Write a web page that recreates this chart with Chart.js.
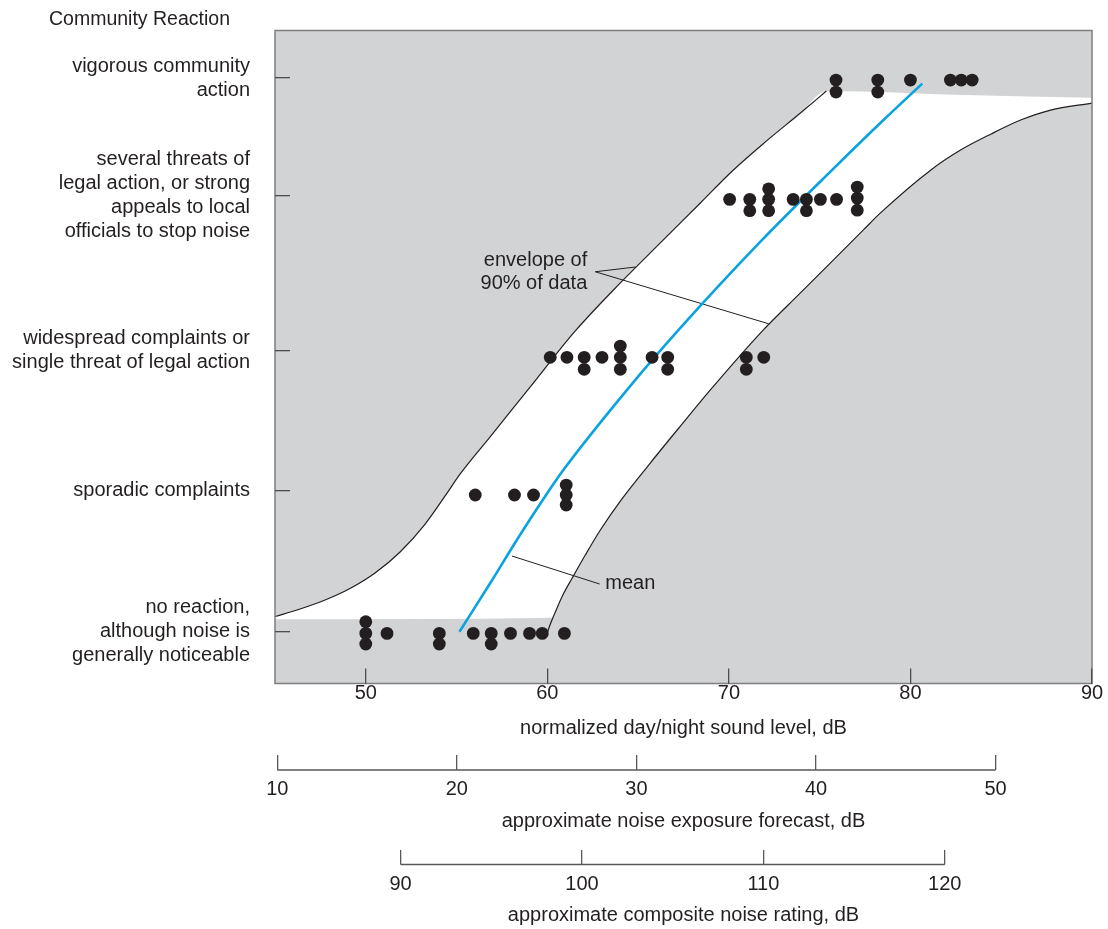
<!DOCTYPE html>
<html>
<head>
<meta charset="utf-8">
<title>Community reaction to noise</title>
<script src="https://cdn.jsdelivr.net/npm/chart.js@4"></script>
<style>
  body { margin: 0; background: #fff; }
  #wrap { width: 1108px; height: 929px; }
</style>
</head>
<body>
<div id="wrap"><canvas id="reactionChart" width="1108" height="929"></canvas></div>
<script>
// reaction categories (bottom to top) and where they sit on the reaction scale
const reactionLabels = [
    ['no reaction,', 'although noise is', 'generally noticeable'],
    ['sporadic complaints'],
    ['widespread complaints or', 'single threat of legal action'],
    ['several threats of', 'legal action, or strong', 'appeals to local', 'officials to stop noise'],
    ['vigorous community', 'action']
];
const reactionLevels = [0, 1.02, 2.03, 3.15, 4.0];

const soundLevelTicks = [50, 60, 70, 80, 90];
const forecastTicks = [10, 20, 30, 40, 50];
const ratingTicks = [90, 100, 110, 120];

// survey cases: normalized day/night level (dB) and reaction score
const caseLevel = [
    50.0, 50.0, 50.0, 51.17, 54.05, 54.05, 55.92, 56.91, 56.91, 57.97, 59.02, 59.72, 60.94,
    56.03, 58.19, 59.24, 61.04, 61.04, 61.04,
    60.16, 61.08, 62.03, 62.03, 63.01, 64.02, 64.02, 64.02, 65.77, 66.63, 66.63, 70.96, 70.96, 71.92,
    70.04, 71.15, 71.15, 72.19, 72.19, 72.19, 73.54, 74.27, 74.27, 75.04, 75.93, 77.07, 77.07, 77.07,
    75.9, 75.9, 78.2, 78.2, 80.0, 82.2, 82.8, 83.4
];
const caseReaction = [
    0.072, -0.012, -0.089, -0.012, -0.012, -0.089, -0.012, -0.012, -0.089, -0.012, -0.012, -0.012, -0.012,
    0.988, 0.988, 0.988, 1.06, 0.988, 0.915,
    1.983, 1.983, 1.983, 1.896, 1.983, 2.064, 1.983, 1.896, 1.983, 1.983, 1.896, 1.983, 1.896, 1.983,
    3.124, 3.124, 3.042, 3.20, 3.124, 3.042, 3.124, 3.124, 3.042, 3.124, 3.124, 3.213, 3.133, 3.046,
    3.986, 3.899, 3.986, 3.899, 3.986, 3.986, 3.986, 3.986
];

// mean curve
const meanLevel = [55.16, 56.85, 58.32, 59.93, 60.89, 64.39, 67.23, 71.83, 75.69, 78.53, 80.65];
const meanReaction = [0, 0.350, 0.663, 0.988, 1.170, 1.748, 2.181, 2.831, 3.337, 3.699, 3.960];

// envelope of 90% of data
const upperLevel = [45.0, 46.38, 47.76, 49.13, 50.51, 51.89, 53.27, 54.37, 55.20, 56.85, 59.06, 61.54,
    64.02, 66.39, 68.43, 70.19, 72.01, 73.94, 75.37];
const upperReaction = [0.110, 0.164, 0.229, 0.312, 0.424, 0.576, 0.778, 0.981, 1.140, 1.408, 1.769, 2.173,
    2.520, 2.831, 3.098, 3.329, 3.539, 3.748, 3.907];
const lowerLevel = [59.99, 60.21, 60.44, 60.88, 61.37, 62.09, 62.92, 64.02, 65.67, 67.33, 68.98, 71.90,
    73.94, 77.41, 78.35, 81.11, 82.76, 84.42, 86.07, 87.72, 90.0];
const lowerReaction = [-0.009, 0.070, 0.142, 0.272, 0.388, 0.554, 0.735, 0.944, 1.219, 1.486, 1.747, 2.181,
    2.448, 2.903, 3.026, 3.335, 3.480, 3.595, 3.697, 3.769, 3.820];
// edges of the shaded area where no curve is drawn
const topEdgeLevel = [83.0, 90.0];
const topEdgeReaction = [3.878, 3.858];
const bottomEdgeLevel = [45.0, 60.3];
const bottomEdgeReaction = [0.090, 0.101];

// callouts
const envelopeNote = ['envelope of', '90% of data'];
const envelopeNoteAt = [[62.2, 2.681], [62.2, 2.517]];
const envelopeLeaderA = [[62.64, 2.601], [64.85, 2.635]];
const envelopeLeaderB = [[62.64, 2.601], [72.19, 2.225]];
const meanNote = 'mean';
const meanNoteAt = [63.19, 0.350];
const meanLeader = [[58.05, 0.547], [62.88, 0.345]];

const ink = '#231f20';
const shade = '#d1d3d4';
const font = '"Liberation Sans", Arial, sans-serif';

function pts(xs, ys) {
    return xs.map((x, i) => ({ x: x, y: ys[i] }));
}
function pairs(list) {
    return list.map(p => ({ x: p[0], y: p[1] }));
}

const upperFill = pts(upperLevel.concat(topEdgeLevel), upperReaction.concat(topEdgeReaction));
const lowerFill = pts(bottomEdgeLevel, bottomEdgeReaction)
    .concat(pts(lowerLevel, lowerReaction).filter(p => p.x > 60.3));

Chart.defaults.font.family = font;
Chart.defaults.font.size = 20;
Chart.defaults.color = ink;

const lineBase = { type: 'line', pointRadius: 0, fill: false, cubicInterpolationMode: 'monotone' };

const extras = {
    id: 'extras',
    afterDatasetsDraw(chart) {
        const { ctx, chartArea: a, scales } = chart;
        const x = scales.x, y = scales.y;
        ctx.save();
        ctx.strokeStyle = '#7d7e80';
        ctx.lineWidth = 1.5;
        ctx.strokeRect(a.left, a.top, a.right - a.left, a.bottom - a.top);

        ctx.fillStyle = ink;
        ctx.font = '20px ' + font;
        ctx.textBaseline = 'middle';
        ctx.textAlign = 'right';
        envelopeNote.forEach((t, i) => {
            ctx.fillText(t, x.getPixelForValue(envelopeNoteAt[i][0]), y.getPixelForValue(envelopeNoteAt[i][1]));
        });
        ctx.textAlign = 'left';
        ctx.fillText(meanNote, x.getPixelForValue(meanNoteAt[0]), y.getPixelForValue(meanNoteAt[1]));
        ctx.restore();
    },
    afterDraw(chart) {
        const ctx = chart.ctx;
        ctx.save();
        // baselines of the two conversion scales
        ctx.strokeStyle = '#58595b';
        ctx.lineWidth = 1.3;
        ['x2', 'x3'].forEach(id => {
            const s = chart.scales[id];
            const yy = s.top + s.options.grid.tickLength;
            ctx.beginPath();
            ctx.moveTo(s.getPixelForValue(s.ticks[0].value), yy);
            ctx.lineTo(s.getPixelForValue(s.ticks[s.ticks.length - 1].value), yy);
            ctx.stroke();
        });
        ctx.fillStyle = ink;
        ctx.font = '19.5px ' + font;
        ctx.textBaseline = 'middle';
        ctx.textAlign = 'left';
        ctx.fillText('Community Reaction', 49, 20);
        ctx.restore();
    }
};

function bottomAxis(ticks, min, max, weight, height, tick, pad, title, titlePad) {
    return {
        type: 'linear', axis: 'x', position: 'bottom', weight: weight, min: min, max: max,
        afterBuildTicks: s => { s.ticks = ticks.map(v => ({ value: v })); },
        afterFit: s => { s.height = height; s.paddingLeft = 0; s.paddingRight = 0; },
        ticks: { padding: pad, autoSkip: false, maxRotation: 0, color: ink },
        grid: { drawOnChartArea: false, drawTicks: true, tickLength: tick, color: '#58595b', lineWidth: 1.3 },
        border: { display: false },
        title: { display: true, text: title, color: ink, font: { size: 20 }, padding: { top: 0, bottom: titlePad } }
    };
}

const mainAxis = bottomAxis(soundLevelTicks, 45, 90, 0, 71.5, -15, 12.5, 'normalized day/night sound level, dB', 14.5);
mainAxis.grid.color = '#4d4d4f';
mainAxis.grid.z = 1;

new Chart(document.getElementById('reactionChart'), {
    type: 'scatter',
    data: {
        datasets: [
            { label: 'cases', data: pts(caseLevel, caseReaction), backgroundColor: ink, borderWidth: 0, pointRadius: 6.4 },
            { ...lineBase, label: 'mean', data: pts(meanLevel, meanReaction), borderColor: '#0aa3e0', borderWidth: 2.6 },
            { ...lineBase, label: 'upper', data: pts(upperLevel, upperReaction), borderColor: ink, borderWidth: 1.2 },
            { ...lineBase, label: 'lower', data: pts(lowerLevel, lowerReaction), borderColor: ink, borderWidth: 1.2 },
            { ...lineBase, label: 'leader a', data: pairs(envelopeLeaderA), borderColor: ink, borderWidth: 1 },
            { ...lineBase, label: 'leader b', data: pairs(envelopeLeaderB), borderColor: ink, borderWidth: 1 },
            { ...lineBase, label: 'leader mean', data: pairs(meanLeader), borderColor: ink, borderWidth: 1 },
            { ...lineBase, label: 'shade above', data: upperFill, borderWidth: 0, borderColor: shade, fill: 'end', backgroundColor: shade },
            { ...lineBase, label: 'shade below', data: lowerFill, borderWidth: 0, borderColor: shade, fill: 'start', backgroundColor: shade }
        ]
    },
    options: {
        responsive: false,
        animation: false,
        layout: { padding: { top: 30.5, right: 16, bottom: 0, left: 0 } },
        plugins: { legend: { display: false }, tooltip: { enabled: false } },
        scales: {
            x: mainAxis,
            x2: bottomAxis(forecastTicks, 9.872, 55.37, 1, 95, 15, 7, 'approximate noise exposure forecast, dB', 16.3),
            x3: bottomAxis(ratingTicks, 83.075, 128.12, 2, 79, 14.5, 7.5, 'approximate composite noise rating, dB', 2),
            y: {
                type: 'linear', min: -0.374, max: 4.344,
                afterBuildTicks: s => { s.ticks = reactionLevels.map(v => ({ value: v })); },
                afterFit: s => { s.width = 275; s.paddingTop = 0; s.paddingBottom = 0; },
                ticks: { autoSkip: false, padding: 40, color: ink, font: { size: 20, lineHeight: 1.2 },
                    callback: (v, i) => reactionLabels[i] },
                grid: { drawOnChartArea: false, drawTicks: true, tickLength: -15, color: '#4d4d4f', lineWidth: 1.3, z: 1 },
                border: { display: false }
            }
        }
    },
    plugins: [extras]
});
</script>
</body>
</html>
